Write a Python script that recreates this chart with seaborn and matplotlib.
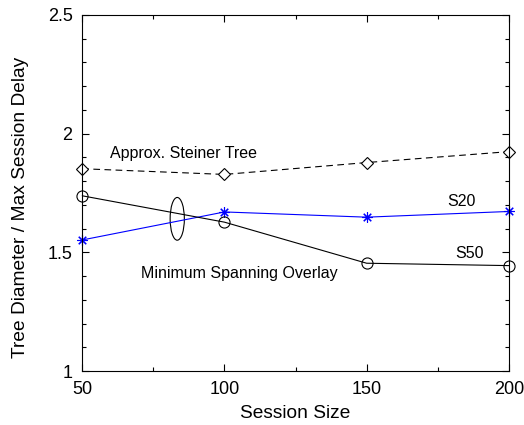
import pandas as pd
import seaborn as sns
import matplotlib.pyplot as plt
from matplotlib.patches import Ellipse
from matplotlib.ticker import MultipleLocator

# --- data ---
session_size = [50, 100, 150, 200]
steiner = [1.852, 1.828, 1.878, 1.924]
s20 = [1.552, 1.670, 1.648, 1.672]
s50 = [1.738, 1.627, 1.454, 1.444]

sns.set_theme(style="ticks", rc={"text.color": "black", "axes.labelcolor": "black",
                                 "xtick.color": "black", "ytick.color": "black"})
plt.rcParams["font.family"] = ["Liberation Sans", "DejaVu Sans"]

fig, ax = plt.subplots(figsize=(5.24, 4.25), dpi=100)

df = pd.DataFrame({"size": session_size, "steiner": steiner, "s20": s20, "s50": s50})

sns.lineplot(data=df, x="size", y="steiner", ax=ax, color="black", linewidth=0.8,
             linestyle=(0, (6, 4)), marker="D", markersize=6.5, clip_on=False,
             markerfacecolor="white", markeredgecolor="black", markeredgewidth=0.8)
sns.lineplot(data=df, x="size", y="s20", ax=ax, color="blue", linewidth=0.8, clip_on=False,
             marker=(8, 2, 0), markersize=7.5, markeredgecolor="blue", markeredgewidth=0.8)
sns.lineplot(data=df, x="size", y="s50", ax=ax, color="black", linewidth=0.8, clip_on=False,
             marker="o", markersize=8, markerfacecolor="none",
             markeredgecolor="black", markeredgewidth=0.8)

ax.add_patch(Ellipse((83.4, 1.641), 5.0, 0.18, fill=False, edgecolor="black", linewidth=0.8))

ax.text(59.8, 1.915, "Approx. Steiner Tree", fontsize=11.5, va="center", ha="left")
ax.text(178.5, 1.712, "S20", fontsize=11.5, va="center", ha="left")
ax.text(181, 1.497, "S50", fontsize=11.5, va="center", ha="left")
ax.text(70.5, 1.41, "Minimum Spanning Overlay", fontsize=11.5, va="center", ha="left")

ax.set_xlim(50, 200)
ax.set_ylim(1, 2.5)
ax.xaxis.set_major_locator(MultipleLocator(50))
ax.xaxis.set_minor_locator(MultipleLocator(25))
ax.yaxis.set_major_locator(MultipleLocator(0.5))
ax.yaxis.set_minor_locator(MultipleLocator(0.1))
ax.set_yticks([1, 1.5, 2, 2.5])
ax.set_yticklabels(["1", "1.5", "2", "2.5"])
ax.tick_params(which="both", direction="in", top=True, right=True, labelsize=13,
               color="black", labelcolor="black", pad=7)
ax.tick_params(which="major", length=5, width=0.8)
ax.tick_params(which="minor", length=3, width=0.8)
for sp in ax.spines.values():
    sp.set_color("black")
    sp.set_linewidth(0.8)

ax.set_xlabel("Session Size", fontsize=13.75)
ax.set_ylabel("Tree Diameter / Max Session Delay", fontsize=13.75)

fig.subplots_adjust(left=0.157, right=0.971, top=0.965, bottom=0.127)
# label positions in axes fraction, matched to the reference
ax.xaxis.set_label_coords(0.5, -0.095)
ax.yaxis.set_label_coords(-0.125, 0.46)
fig.savefig("out.png", dpi=100)
